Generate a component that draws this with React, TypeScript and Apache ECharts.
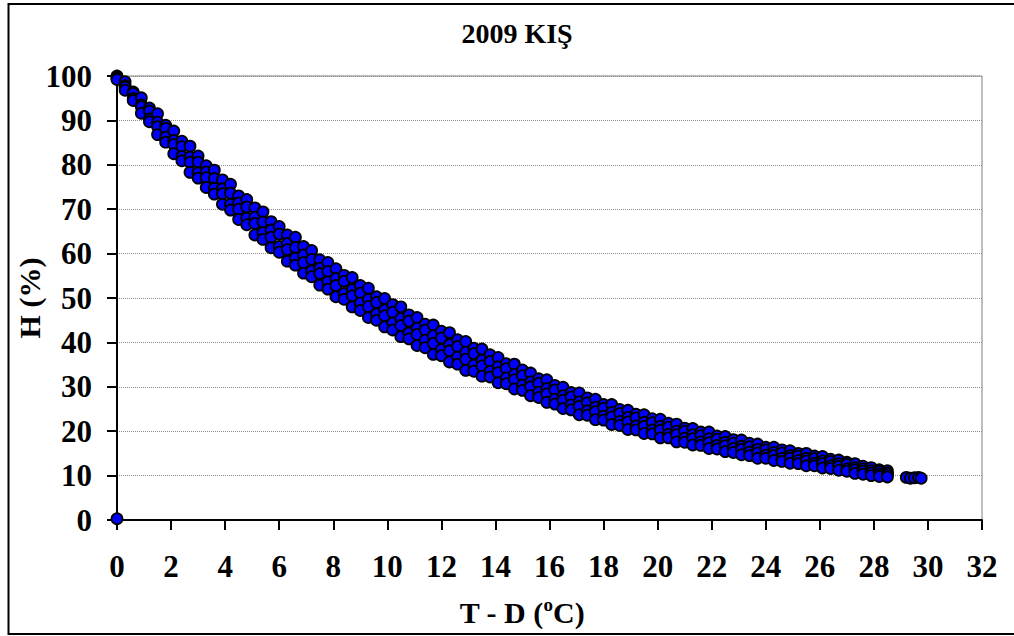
import React, { useEffect, useRef } from "react";
import * as echarts from "echarts";

// T - D (°C) column positions of the dense band of observations
const tdColumns = [
  0.0, 0.3, 0.6, 0.9, 1.2, 1.5, 1.8, 2.1, 2.4, 2.7,
  3.0, 3.3, 3.6, 3.9, 4.2, 4.5, 4.8, 5.1, 5.4, 5.7,
  6.0, 6.3, 6.6, 6.9, 7.2, 7.5, 7.8, 8.1, 8.4, 8.7,
  9.0, 9.3, 9.6, 9.9, 10.2, 10.5, 10.8, 11.1, 11.4, 11.7,
  12.0, 12.3, 12.6, 12.9, 13.2, 13.5, 13.8, 14.1, 14.4, 14.7,
  15.0, 15.3, 15.6, 15.9, 16.2, 16.5, 16.8, 17.1, 17.4, 17.7,
  18.0, 18.3, 18.6, 18.9, 19.2, 19.5, 19.8, 20.1, 20.4, 20.7,
  21.0, 21.3, 21.6, 21.9, 22.2, 22.5, 22.8, 23.1, 23.4, 23.7,
  24.0, 24.3, 24.6, 24.9, 25.2, 25.5, 25.8, 26.1, 26.4, 26.7,
  27.0, 27.3, 27.6, 27.9, 28.2, 28.5,
];

// H (%) — upper edge of the band
const hTop = [
  100, 98.7, 96.4, 95.1, 92.8, 91.5, 88.9, 87.6, 85.3, 84.2,
  82.0, 79.8, 78.8, 76.6, 75.6, 73.0, 72.2, 70.3, 69.4, 67.2,
  66.1, 64.2, 63.7, 61.6, 60.7, 58.6, 58.0, 56.6, 55.1, 54.6,
  52.8, 52.2, 50.3, 49.9, 48.5, 48.0, 46.2, 45.6, 44.1, 43.9,
  42.5, 42.2, 40.6, 40.2, 38.7, 38.5, 37.2, 36.6, 35.2, 35.1,
  33.8, 33.1, 31.8, 31.6, 30.3, 29.9, 28.7, 28.6, 27.5, 27.2,
  26.0, 26.0, 24.9, 24.7, 23.8, 23.7, 22.8, 22.7, 21.8, 21.6,
  20.7, 20.6, 19.8, 19.8, 18.9, 18.8, 18.1, 18.0, 17.3, 17.1,
  16.4, 16.4, 15.8, 15.6, 15.0, 15.0, 14.4, 14.3, 13.7, 13.5,
  13.0, 12.7, 12.1, 11.8, 11.3, 11.1,
];

// H (%) — upper middle of the band
const hUpper = [
  99.8, 97.8, 96.1, 93.5, 92.1, 89.6, 88.2, 85.5, 84.1, 81.7,
  80.6, 78.4, 76.9, 74.6, 73.6, 71.4, 70.5, 68.2, 67.1, 65.3,
  64.4, 62.3, 61.4, 59.7, 58.7, 56.7, 56.0, 54.4, 53.8, 51.9,
  51.1, 49.7, 49.0, 47.3, 46.8, 45.4, 44.8, 43.2, 42.8, 41.5,
  41.0, 39.5, 39.1, 37.8, 37.5, 36.0, 35.7, 34.5, 34.1, 32.8,
  32.5, 31.1, 30.8, 29.6, 29.3, 28.0, 27.7, 26.6, 26.4, 25.4,
  25.2, 24.2, 24.0, 23.1, 23.0, 22.0, 21.9, 21.1, 20.9, 20.0,
  20.0, 19.2, 19.0, 18.3, 18.2, 17.5, 17.3, 16.6, 16.5, 15.9,
  15.8, 15.2, 15.1, 14.5, 14.4, 13.9, 13.8, 13.3, 13.2, 12.7,
  12.5, 11.8, 11.5, 11.1, 10.9, 10.6,
];

// H (%) — lower middle of the band
const hLower = [
  99.5, 97.5, 94.9, 93.1, 90.3, 88.6, 86.2, 84.6, 81.9, 80.6,
  78.2, 77.1, 74.7, 73.5, 71.1, 70.0, 68.0, 66.8, 64.7, 63.7,
  61.6, 60.9, 59.0, 58.0, 56.1, 55.5, 53.6, 52.8, 51.0, 50.5,
  48.9, 48.1, 46.4, 46.0, 44.4, 43.8, 42.1, 41.8, 40.5, 39.8,
  38.4, 38.1, 36.7, 36.2, 34.9, 34.7, 33.5, 33.2, 32.0, 31.6,
  30.4, 30.0, 28.8, 28.4, 27.2, 27.0, 25.9, 25.6, 24.6, 24.4,
  23.4, 23.2, 22.2, 22.1, 21.2, 21.1, 20.3, 20.2, 19.3, 19.2,
  18.4, 18.3, 17.6, 17.4, 16.8, 16.7, 16.1, 15.9, 15.3, 15.1,
  14.6, 14.5, 13.9, 13.9, 13.4, 13.3, 12.8, 12.7, 12.2, 12.1,
  11.5, 11.3, 11.0, 10.6, 10.3, 10.2,
];

// H (%) — lower edge of the band
const hBottom = [
  99.2, 96.8, 94.5, 91.6, 89.7, 86.8, 85.1, 82.5, 80.9, 78.3,
  77.0, 74.9, 73.4, 71.1, 69.8, 67.7, 66.5, 64.2, 63.2, 61.3,
  60.3, 58.3, 57.4, 55.6, 54.8, 52.9, 52.0, 50.3, 49.7, 48.0,
  47.2, 45.6, 45.0, 43.5, 42.8, 41.3, 40.8, 39.3, 38.8, 37.3,
  37.0, 35.6, 35.1, 33.7, 33.5, 32.4, 32.2, 30.9, 30.7, 29.5,
  29.2, 28.0, 27.6, 26.5, 26.1, 25.1, 24.8, 23.7, 23.6, 22.6,
  22.5, 21.5, 21.3, 20.4, 20.3, 19.5, 19.4, 18.5, 18.5, 17.6,
  17.5, 16.9, 16.8, 16.1, 16.0, 15.4, 15.2, 14.7, 14.5, 13.9,
  13.9, 13.4, 13.2, 12.8, 12.7, 12.2, 12.2, 11.7, 11.6, 11.2,
  11.0, 10.5, 10.3, 10.0, 9.8, 9.7,
];

// isolated points at the far end and the outlier at the origin
const tailTD = [29.2, 29.35, 29.5, 29.65, 29.75, 0.0];
const tailH = [9.6, 9.4, 9.5, 9.6, 9.4, 0.3];

const xTicks = { min: 0, max: 32, interval: 2 };
const yTicks = { min: 0, max: 100, interval: 10 };

const FONT = '"Times New Roman", "Liberation Serif", serif';

export default function App() {
  const ref = useRef<HTMLDivElement>(null);

  useEffect(() => {
    if (!ref.current) return;
    const chart = echarts.init(ref.current, undefined, { renderer: "svg" });

    const data: number[][] = [];
    tdColumns.forEach((x, i) => {
      data.push([x, hTop[i]]);
      data.push([x, hUpper[i]]);
      data.push([x, hLower[i]]);
      data.push([x, hBottom[i]]);
    });
    tailTD.forEach((x, i) => data.push([x, tailH[i]]));

    chart.setOption({
      animation: false,
      backgroundColor: "#ffffff",
      title: {
        text: "2009 KIŞ",
        left: 512,
        textAlign: "center",
        top: 14,
        textStyle: { fontFamily: FONT, fontWeight: "bold", fontSize: 28, color: "#000" },
      },
      grid: {
        left: 117,
        top: 76,
        right: 32,
        bottom: 116,
        containLabel: false,
        outerBoundsMode: "none",
        show: true,
        borderColor: "#808080",
        borderWidth: 1,
        backgroundColor: "transparent",
      },
      xAxis: {
        type: "value",
        ...xTicks,
        name: "T - D ({sup|o}C)",
        nameLocation: "middle",
        nameGap: 75,
        nameMoveOverlap: false,
        nameTextStyle: {
          fontFamily: FONT,
          fontWeight: "bold",
          fontSize: 30,
          color: "#000",
          lineHeight: 34,
          padding: [0, 55, 0, 0],
          rich: {
            sup: {
              fontFamily: FONT,
              fontWeight: "bold",
              fontSize: 19,
              color: "#000",
              verticalAlign: "top",
              lineHeight: 34,
            },
          },
        },
        axisLine: { show: true, onZero: false, lineStyle: { color: "#000", width: 2 } },
        axisTick: { show: true, inside: false, length: 10, lineStyle: { color: "#000", width: 2 } },
        axisLabel: {
          margin: 31,
          fontFamily: FONT,
          fontWeight: "bold",
          fontSize: 31,
          color: "#000",
        },
        splitLine: { show: false },
      },
      yAxis: {
        type: "value",
        ...yTicks,
        name: "H (%)",
        nameLocation: "middle",
        nameRotate: 90,
        nameGap: 73,
        nameMoveOverlap: false,
        nameTextStyle: { fontFamily: FONT, fontWeight: "bold", fontSize: 30, color: "#000000" },
        axisLine: { show: true, onZero: false, lineStyle: { color: "#000", width: 2 } },
        axisTick: { show: true, inside: false, length: 10, lineStyle: { color: "#000", width: 2 } },
        axisLabel: {
          margin: 25,
          fontFamily: FONT,
          fontWeight: "bold",
          fontSize: 31,
          color: "#000",
        },
        splitLine: { show: true, lineStyle: { color: "#8c8c8c", width: 1, type: "dotted" } },
      },
      graphic: [
        {
          type: "rect",
          shape: { x: 8.5, y: 4, width: 1010, height: 630 },
          style: { fill: "none", stroke: "#000", lineWidth: 2 },
          silent: true,
          z: 100,
        },
      ],
      series: [
        {
          type: "scatter",
          data,
          symbol: "circle",
          symbolSize: 11,
          clip: false,
          itemStyle: { color: "#0000ff", borderColor: "#000", borderWidth: 1.8, opacity: 1 },
        },
      ],
    });

    return () => chart.dispose();
  }, []);

  return (
    <div
      ref={ref}
      style={{ position: "fixed", left: 0, top: 0, width: 1014, height: 636, background: "#fff" }}
    />
  );
}
